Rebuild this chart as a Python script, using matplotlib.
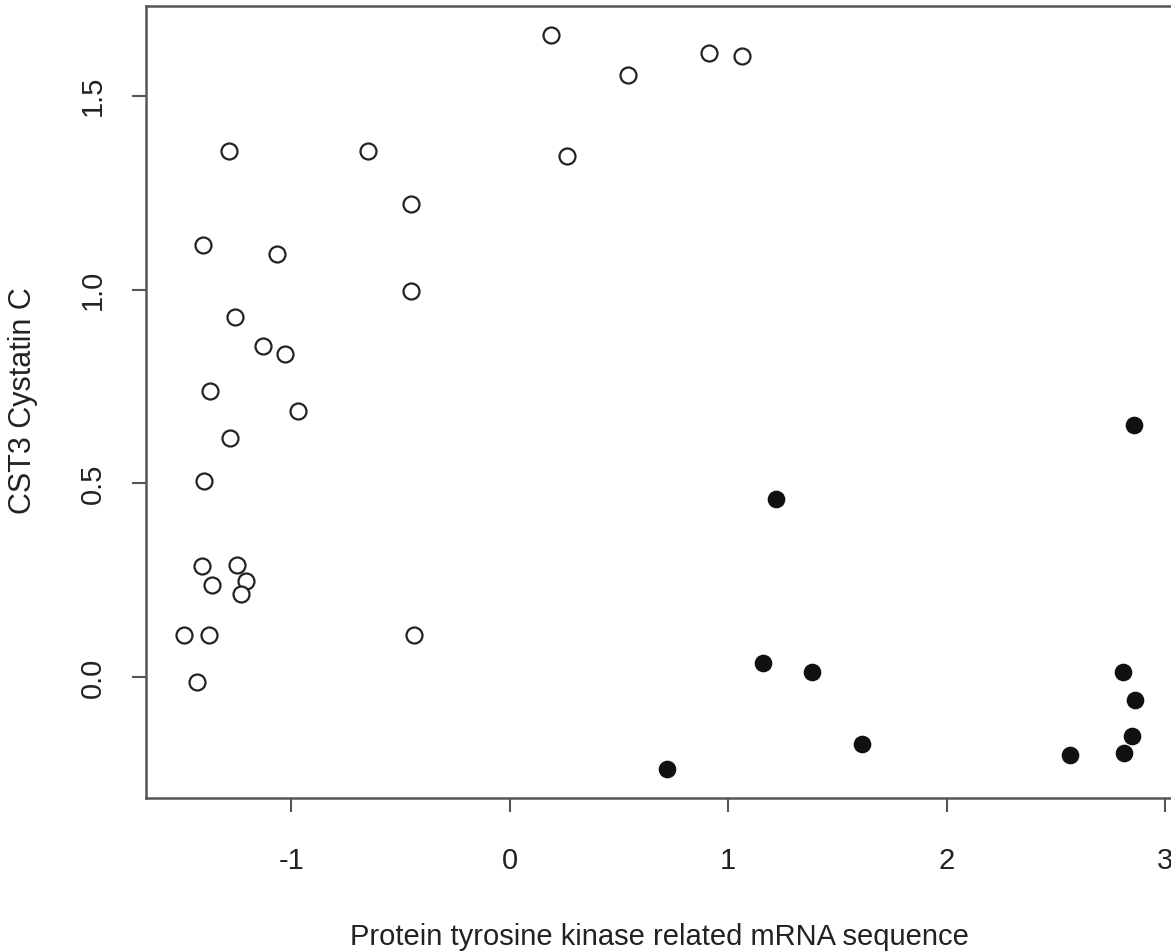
import matplotlib
matplotlib.use("Agg")
import matplotlib.pyplot as plt

open_x = [0.187, 0.540, 0.914, 1.061, -1.285, -0.649, 0.261, -0.453, -1.404, -1.065,
          -0.453, -1.257, -1.129, -1.029, -1.372, -0.969, -1.280, -1.399, -1.408, -1.248,
          -1.363, -1.207, -1.230, -1.491, -1.376, -0.439, -1.431]
open_y = [1.655, 1.552, 1.609, 1.601, 1.356, 1.356, 1.343, 1.221, 1.115, 1.092,
          0.997, 0.930, 0.855, 0.834, 0.738, 0.687, 0.617, 0.506, 0.287, 0.289,
          0.238, 0.248, 0.214, 0.108, 0.108, 0.108, -0.013]
filled_x = [2.858, 1.221, 1.157, 1.385, 2.807, 2.862, 2.849, 1.614, 2.565, 2.812, 0.722]
filled_y = [0.651, 0.460, 0.036, 0.013, 0.015, -0.059, -0.152, -0.173, -0.199, -0.194, -0.235]

x_ticks = [-1, 0, 1, 2, 3]
y_ticks = [0.0, 0.5, 1.0, 1.5]
x_label = "Protein tyrosine kinase related mRNA sequence"
y_label = "CST3 Cystatin C"

plt.rcParams['font.family'] = ['Liberation Sans', 'DejaVu Sans']
W, H = 1171, 952
fig = plt.figure(figsize=(W / 100, H / 100), dpi=100)
ax = fig.add_axes([146 / W, (H - 798) / H, (1173 - 146) / W, (798 - 6) / H])

ax.plot(open_x, open_y, 'o', ms=11.5, mfc='white', mec='#222222', mew=1.6, ls='none')
ax.plot(filled_x, filled_y, 'o', ms=11.5, mfc='#111111', mec='#111111', mew=1.2, ls='none')

ax.set_xlim(-1.665, 3.036)
ax.set_ylim(-0.311, 1.731)
ax.set_xticks(x_ticks)
ax.set_xticklabels([str(t) for t in x_ticks])
ax.set_yticks(y_ticks)
ax.set_yticklabels([f"{t:.1f}" for t in y_ticks], rotation=90, va='center')
ax.tick_params(axis='both', direction='out', length=10, width=1.5, color='#555555',
               labelsize=21, labelcolor='#222222')
ax.tick_params(axis='x', pad=25)
ax.tick_params(axis='y', pad=18)
for s in ax.spines.values():
    s.set_color('#555555')
    s.set_linewidth(1.8)

fig.text(659 / W, 1 - 945 / H, x_label, ha='center', va='baseline', fontsize=21, color='#222222')
fig.text(23 / W, 1 - 401 / H, y_label, ha='center', va='center', rotation=90, fontsize=22, color='#222222')

fig.savefig("out.png", dpi=100)
